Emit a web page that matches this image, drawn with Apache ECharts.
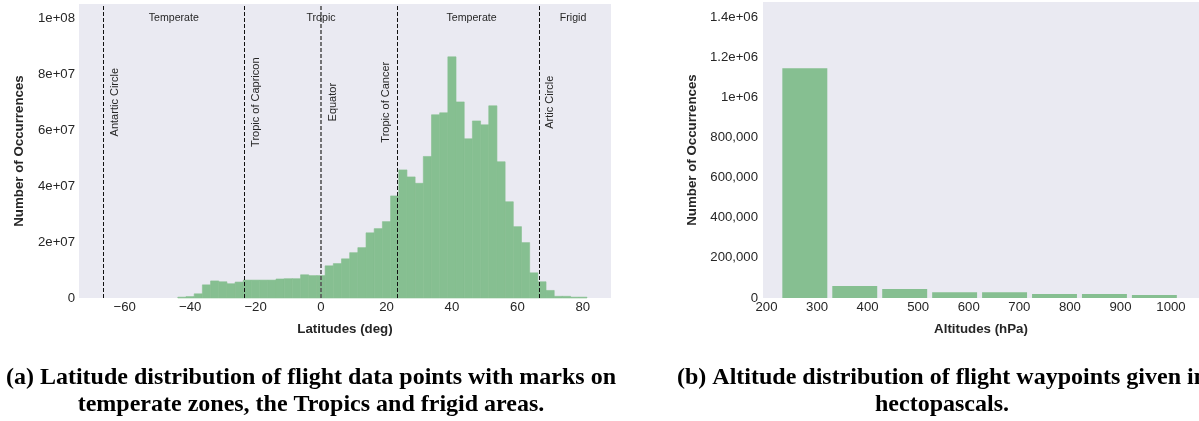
<!DOCTYPE html>
<html><head><meta charset="utf-8">
<script src="https://cdn.jsdelivr.net/npm/echarts@6/dist/echarts.min.js"></script>
<style>html,body{margin:0;padding:0;background:#fff}#c{width:1199px;height:421px}</style>
</head><body><div id="c"></div>
<script>
// ---- Latitude histogram (left) ----
const latBinEdges = [-43.75,-41.25,-38.75,-36.25,-33.75,-31.25,-28.75,-26.25,-23.75,-21.25,-18.75,-16.25,-13.75,-11.25,-8.75,-6.25,-3.75,-1.25,1.25,3.75,6.25,8.75,11.25,13.75,16.25,18.75,21.25,23.75,26.25,28.75,31.25,33.75,36.25,38.75,41.25,43.75,46.25,48.75,51.25,53.75,56.25,58.75,61.25,63.75,66.25,68.75,71.25,73.75,76.25,78.75,81.25];
const latCounts = [0.3e6,0.5e6,1.5e6,4.7e6,6.1e6,5.8e6,5.1e6,5.7e6,6.4e6,6.4e6,6.4e6,6.4e6,6.8e6,6.9e6,6.9e6,8.3e6,8.0e6,8.0e6,11.5e6,12.3e6,14.0e6,16.2e6,18.0e6,23.3e6,24.8e6,27.3e6,36.5e6,45.8e6,43.3e6,41.0e6,50.6e6,65.5e6,66.2e6,86.2e6,70.1e6,56.9e6,63.3e6,61.9e6,68.7e6,48.7e6,34.4e6,25.5e6,19.8e6,9.0e6,5.8e6,2.7e6,0.6e6,0.6e6,0.3e6,0.3e6];
const latTicks = [-60,-40,-20,0,20,40,60,80];
const circleNames = ['Antartic Circle','Tropic of Capricon','Equator','Tropic of Cancer','Artic Circle'];
const circleLats = [-66.56,-23.44,0,23.44,66.56];
const circleLabelValue = 7e7;
const zoneNames = ['Temperate','Tropic','Temperate','Frigid'];
const zoneCenters = [-45,0,46,77];
const zoneLabelValue = 1e8;

// ---- Altitude histogram (right) ----
const altBinEdges = [226.4,325.2,423.9,522.7,621.4,720.2,818.9,917.7,1016.4];
const altCounts = [1145000,60000,45000,28500,28500,20000,20000,15000];
const altTicks = [200,300,400,500,600,700,800,900,1000];

const BAR = '#86bf91', BG = '#eaeaf2', TXT = '#262626';
const FONT = '"Liberation Sans", Arial, sans-serif';
const labelSide = [1,1,1,-1,1];

const latData = latCounts.map((c,i)=>[latBinEdges[i], latBinEdges[i+1], c]);
const altData = altCounts.map((c,i)=>[altBinEdges[i], altBinEdges[i+1], c]);

function rectItem(p0,p1,seam){
  return {type:'rect', shape:{x:p0[0], y:p0[1], width:p1[0]-p0[0], height:p1[1]-p0[1]},
    style: seam ? {fill:BAR, stroke:BAR, lineWidth:0.6} : {fill:BAR}};
}

const chart = echarts.init(document.getElementById('c'), null, {renderer:'canvas'});
const axisLabelBase = {color:TXT, fontSize:13.2, fontFamily:FONT};
const nameStyle = {color:TXT, fontSize:13.3, fontWeight:'bold', fontFamily:FONT};

chart.setOption({
  animation:false,
  backgroundColor:'#fff',
  grid:[
    {left:79, top:4, width:532, height:294, backgroundColor:BG, show:true, borderWidth:0},
    {left:763, top:2, width:438, height:296, backgroundColor:BG, show:true, borderWidth:0}
  ],
  xAxis:[
    {type:'value', gridIndex:0, min:-73.95, max:88.6,
     axisLine:{show:false}, axisTick:{show:false}, splitLine:{show:false},
     axisLabel:Object.assign({}, axisLabelBase, {margin:3, customValues:latTicks,
       formatter:v=> v<0 ? '\u2212'+(-v) : String(v)}),
     name:'Latitudes (deg)', nameLocation:'middle', nameGap:25, nameTextStyle:nameStyle},
    {type:'value', gridIndex:1, min:193.1, max:1055.3,
     axisLine:{show:false}, axisTick:{show:false}, splitLine:{show:false},
     axisLabel:Object.assign({}, axisLabelBase, {margin:3, customValues:altTicks,
       formatter:v=> String(Math.round(v))}),
     name:'Altitudes (hPa)', nameLocation:'middle', nameGap:25, nameTextStyle:nameStyle}
  ],
  yAxis:[
    {type:'value', gridIndex:0, min:0, max:1.051e8, interval:2e7,
     axisLine:{show:false}, axisTick:{show:false}, splitLine:{show:false},
     axisLabel:Object.assign({}, axisLabelBase, {margin:4, showMaxLabel:false,
       formatter:v=> v===0 ? '0' : v.toExponential().replace(/e\+(\d)$/,'e+0$1')}),
     name:'Number of Occurrences', nameLocation:'middle', nameGap:53, nameTextStyle:nameStyle},
    {type:'value', gridIndex:1, min:0, max:1.4745e6, interval:2e5,
     axisLine:{show:false}, axisTick:{show:false}, splitLine:{show:false},
     axisLabel:Object.assign({}, axisLabelBase, {margin:5, showMaxLabel:false,
       formatter:v=> v===0 ? '0' : (v>=1e6 ? Number(v.toPrecision(6)).toExponential().replace(/e\+(\d)$/,'e+0$1') : v.toLocaleString('en-US'))}),
     name:'Number of Occurrences', nameLocation:'middle', nameGap:64, nameTextStyle:nameStyle}
  ],
  series:[
    {type:'custom', xAxisIndex:0, yAxisIndex:0, data:latData, encode:{x:[0,1], y:2},
     renderItem:(params, api)=>{
       const p0 = api.coord([api.value(0), api.value(2)]);
       const p1 = api.coord([api.value(1), 0]);
       return rectItem(p0,p1,true);
     },
     markLine:{silent:true, symbol:'none', label:{show:false},
       lineStyle:{color:'#111', width:1, type:[4,2]},
       data: circleLats.map((x,i)=>({xAxis:x, lineStyle: i===2 ? {color:'#555', width:1.6, type:[4,2]} : {}}))}
    },
    {type:'custom', xAxisIndex:0, yAxisIndex:0, silent:true, z:5,
     data: circleLats.map((x,i)=>[x, circleLabelValue, i]),
     encode:{x:0, y:1},
     renderItem:(params, api)=>{
       const i = api.value(2);
       const p = api.coord([api.value(0), api.value(1)]);
       return {type:'text', x:p[0] + labelSide[i]*11.5, y:p[1], rotation:Math.PI/2,
         style:{text:circleNames[i], align:'center', verticalAlign:'middle', fill:TXT, font:'11px '+FONT}};
     }
    },
    {type:'custom', xAxisIndex:0, yAxisIndex:0, silent:true, z:5,
     data: zoneCenters.map((x,i)=>[x, zoneLabelValue, i]),
     encode:{x:0, y:1},
     renderItem:(params, api)=>{
       const i = api.value(2);
       const p = api.coord([api.value(0), api.value(1)]);
       return {type:'text', x:p[0], y:p[1],
         style:{text:zoneNames[i], align:'center', verticalAlign:'middle', fill:TXT, font:'10.6px '+FONT}};
     }
    },
    {type:'custom', xAxisIndex:1, yAxisIndex:1, data:altData, encode:{x:[0,1], y:2},
     renderItem:(params, api)=>{
       const a = api.value(0), b = api.value(1);
       const c = (a+b)/2, h = (b-a)*0.45;
       const p0 = api.coord([c-h, api.value(2)]);
       const p1 = api.coord([c+h, 0]);
       return rectItem(p0,p1,false);
     }
    }
  ],
  graphic:[
    {type:'text', x:311, y:364, silent:true,
     style:{text:'(a) Latitude distribution of flight data points with marks on\ntemperate zones, the Tropics and frigid areas.',
       align:'center', verticalAlign:'top', lineHeight:27, fill:'#000', font:'bold 24px "Liberation Serif", "Times New Roman", serif'}},
    {type:'text', x:942, y:364, silent:true,
     style:{text:'(b) Altitude distribution of flight waypoints given in\nhectopascals.',
       align:'center', verticalAlign:'top', lineHeight:27, fill:'#000', font:'bold 24px "Liberation Serif", "Times New Roman", serif'}}
  ]
});
</script>
</body></html>
